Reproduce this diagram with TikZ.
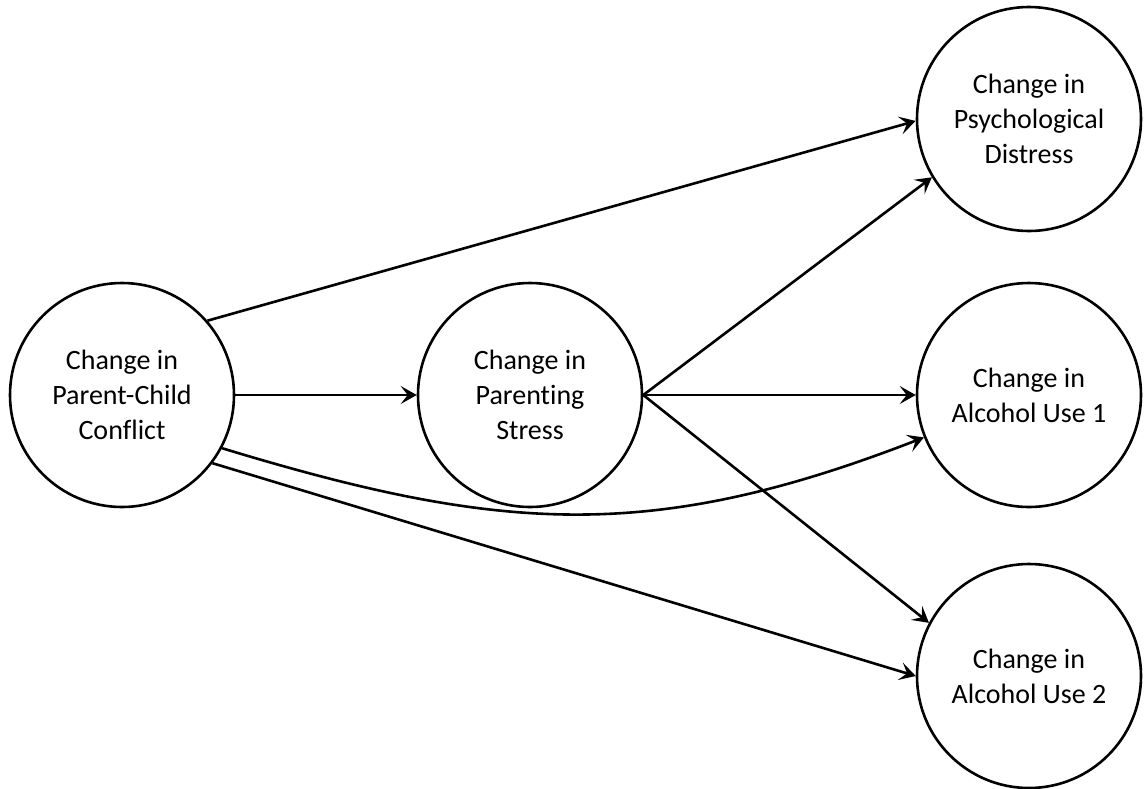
\documentclass[tikz,border=0pt]{standalone}
\usepackage{fontspec}
\setmainfont{Carlito}[Ligatures={NoCommon}]
\usetikzlibrary{arrows.meta}
\begin{document}
\begin{tikzpicture}[x=1pt,y=-1pt,
  var/.style={circle,draw,line width=2.6pt,minimum size=224pt,inner sep=0pt,align=center,font=\fontsize{28}{35}\selectfont},
  link/.style={line width=2.6pt,-{Stealth[length=16pt,width=18pt,inset=7pt]}}]
\useasboundingbox (0,0) rectangle (1144,788);
\node[var] (pcc) at (122,395) {Change in\\Parent-Child\\Conflict};
\node[var] (ps) at (530,395) {Change in\\Parenting\\Stress};
\node[var] (pd) at (1029,119) {Change in\\Psychological\\Distress};
\node[var] (au1) at (1029,395) {Change in\\Alcohol Use 1};
\node[var] (au2) at (1029,676) {Change in\\Alcohol Use 2};
\draw[link] (pcc.41) -- (pd.181);
\draw[link] (pcc.east) -- (ps.west);
\draw[link] (pcc.-28) .. controls (501,533) and (652,543) .. (au1.202.6);
\draw[link] (pcc.-37) -- (au2.west);
\draw[link] (ps.east) -- (pd.211);
\draw[link] (ps.east) -- (au1.west);
\draw[link] (ps.east) -- (au2.152);
\end{tikzpicture}
\end{document}
